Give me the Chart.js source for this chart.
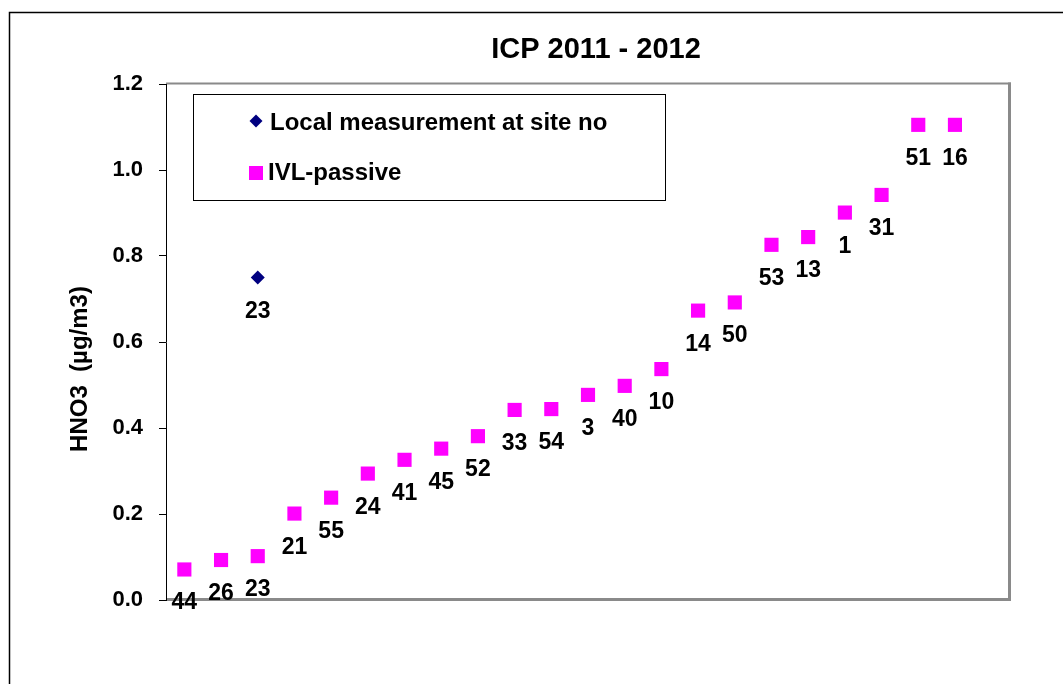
<!DOCTYPE html>
<html>
<head>
<meta charset="utf-8">
<script src="https://cdn.jsdelivr.net/npm/chart.js@4/dist/chart.umd.min.js"></script>
<style>
  html, body { margin: 0; padding: 0; background: #fff; }
  #wrap { width: 1063px; height: 684px; position: relative; }
</style>
</head>
<body>
<div id="wrap"><canvas id="c"></canvas></div>
<script>
// ---- data ----
const chartTitle = 'ICP 2011 - 2012';
const yAxisTitle = 'HNO3  (µg/m3)';
const categories = ['44','26','23','21','55','24','41','45','52','33','54','3','40','10','14','50','53','13','1','31','51','16',''];
const ivlSites   = ['44','26','23','21','55','24','41','45','52','33','54','3','40','10','14','50','53','13','1','31','51','16'];
const ivlValues  = [0.071,0.093,0.102,0.201,0.238,0.294,0.326,0.352,0.381,0.442,0.444,0.477,0.498,0.537,0.673,0.692,0.826,0.844,0.901,0.942,1.105,1.105];
const localSites  = ['23'];
const localValues = [0.75];
const yTicks = [0, 0.2, 0.4, 0.6, 0.8, 1.0, 1.2];

const FONT = '"Liberation Sans", Arial, sans-serif';

const localData = categories.map((c, i) => {
  const k = localSites.indexOf(c);
  return (k >= 0 && i === ivlSites.indexOf(c)) ? localValues[k] : null;
});
const localLabels = categories.map(c => (localSites.indexOf(c) >= 0 ? c : ''));
const ivlData = categories.map((c, i) => (i < ivlValues.length ? ivlValues[i] : null));
const ivlLabels = categories.map((c, i) => (i < ivlSites.length ? ivlSites[i] : ''));

const decor = {
  id: 'decor',
  beforeDraw(chart) {
    const ctx = chart.ctx, a = chart.chartArea;
    ctx.save();
    ctx.fillStyle = '#fff';
    ctx.fillRect(0, 0, chart.width, chart.height);
    // outer border
    ctx.strokeStyle = '#000';
    ctx.lineWidth = 1.5;
    ctx.strokeRect(9.5, 12.5, chart.width + 20, chart.height + 20);
    // plot frame
    ctx.strokeStyle = '#8a8a8a';
    ctx.lineWidth = 2;
    ctx.beginPath(); ctx.moveTo(a.left, a.top - 0.5); ctx.lineTo(a.right + 1, a.top - 0.5); ctx.stroke();
    ctx.lineWidth = 3;
    ctx.beginPath(); ctx.moveTo(a.right - 0.5, a.top - 1.5); ctx.lineTo(a.right - 0.5, a.bottom + 1); ctx.stroke();
    ctx.beginPath(); ctx.moveTo(a.left, a.bottom - 0.5); ctx.lineTo(a.right + 1, a.bottom - 0.5); ctx.stroke();
    ctx.restore();
  },
  afterDatasetsDraw(chart) {
    const ctx = chart.ctx, a = chart.chartArea;
    ctx.save();
    // data labels
    ctx.fillStyle = '#000';
    ctx.font = 'bold 23px ' + FONT;
    ctx.textAlign = 'center';
    ctx.textBaseline = 'alphabetic';
    chart.data.datasets.forEach((ds, i) => {
      const meta = chart.getDatasetMeta(i);
      meta.data.forEach((pt, j) => {
        if (ds.data[j] == null) return;
        ctx.fillText(ds.pointLabels[j], pt.x, pt.y + 40);
      });
    });
    // title
    ctx.font = 'bold 29px ' + FONT;
    ctx.fillText(chartTitle, 596, 58);
    // y axis title
    ctx.save();
    ctx.translate(87, 369);
    ctx.rotate(-Math.PI / 2);
    ctx.font = 'bold 24px ' + FONT;
    ctx.textAlign = 'center';
    ctx.fillText(yAxisTitle, 0, 0);
    ctx.restore();
    // legend box
    ctx.strokeStyle = '#000';
    ctx.lineWidth = 1;
    ctx.strokeRect(193.5, 94.5, 472, 106);
    ctx.font = 'bold 24px ' + FONT;
    ctx.textAlign = 'left';
    const ds0 = chart.data.datasets[0], ds1 = chart.data.datasets[1];
    // diamond
    ctx.fillStyle = ds0.pointBackgroundColor;
    ctx.beginPath();
    ctx.moveTo(256, 114.5); ctx.lineTo(262.5, 121); ctx.lineTo(256, 127.5); ctx.lineTo(249.5, 121); ctx.closePath();
    ctx.fill();
    ctx.fillStyle = '#000';
    ctx.fillText(ds0.label, 270, 129.5);
    // square
    ctx.fillStyle = ds1.pointBackgroundColor;
    ctx.fillRect(249, 166, 14, 14);
    ctx.fillStyle = '#000';
    ctx.fillText(ds1.label, 268, 180);
    ctx.restore();
  }
};

new Chart(document.getElementById('c'), {
  type: 'line',
  data: {
    labels: categories,
    datasets: [
      {
        label: 'Local measurement at site no',
        data: localData,
        pointLabels: localLabels,
        showLine: false,
        pointStyle: 'rectRot',
        pointRadius: 7,
        pointHoverRadius: 7,
        pointBorderWidth: 0,
        pointBackgroundColor: '#000080',
        borderColor: '#000080'
      },
      {
        label: 'IVL-passive',
        data: ivlData,
        pointLabels: ivlLabels,
        showLine: false,
        pointStyle: 'rect',
        pointRadius: 10,
        pointHoverRadius: 10,
        pointBorderWidth: 0,
        pointBackgroundColor: '#ff00ff',
        borderColor: '#ff00ff'
      }
    ]
  },
  options: {
    responsive: true,
    maintainAspectRatio: false,
    animation: false,
    events: [],
    layout: { padding: { left: 0, right: 53, top: 84, bottom: 84 } },
    plugins: {
      legend: { display: false },
      title: { display: false },
      tooltip: { enabled: false }
    },
    scales: {
      x: {
        type: 'category',
        offset: true,
        ticks: { display: false },
        grid: { display: false },
        border: { display: false },
        afterFit(scale) { scale.height = 0; }
      },
      y: {
        min: 0,
        max: 1.2,
        afterBuildTicks(scale) { scale.ticks = yTicks.map(v => ({ value: v })); },
        ticks: {
          color: '#000',
          font: { family: FONT, size: 22, weight: 'bold' },
          padding: 16,
          callback: v => Number(v).toFixed(1)
        },
        grid: {
          display: true,
          drawOnChartArea: false,
          drawTicks: true,
          tickLength: 7,
          color: '#000',
          lineWidth: 1
        },
        border: { display: true, color: '#000', width: 1 },
        afterFit(scale) { scale.width = 166; }
      }
    }
  },
  plugins: [decor]
});
</script>
</body>
</html>
